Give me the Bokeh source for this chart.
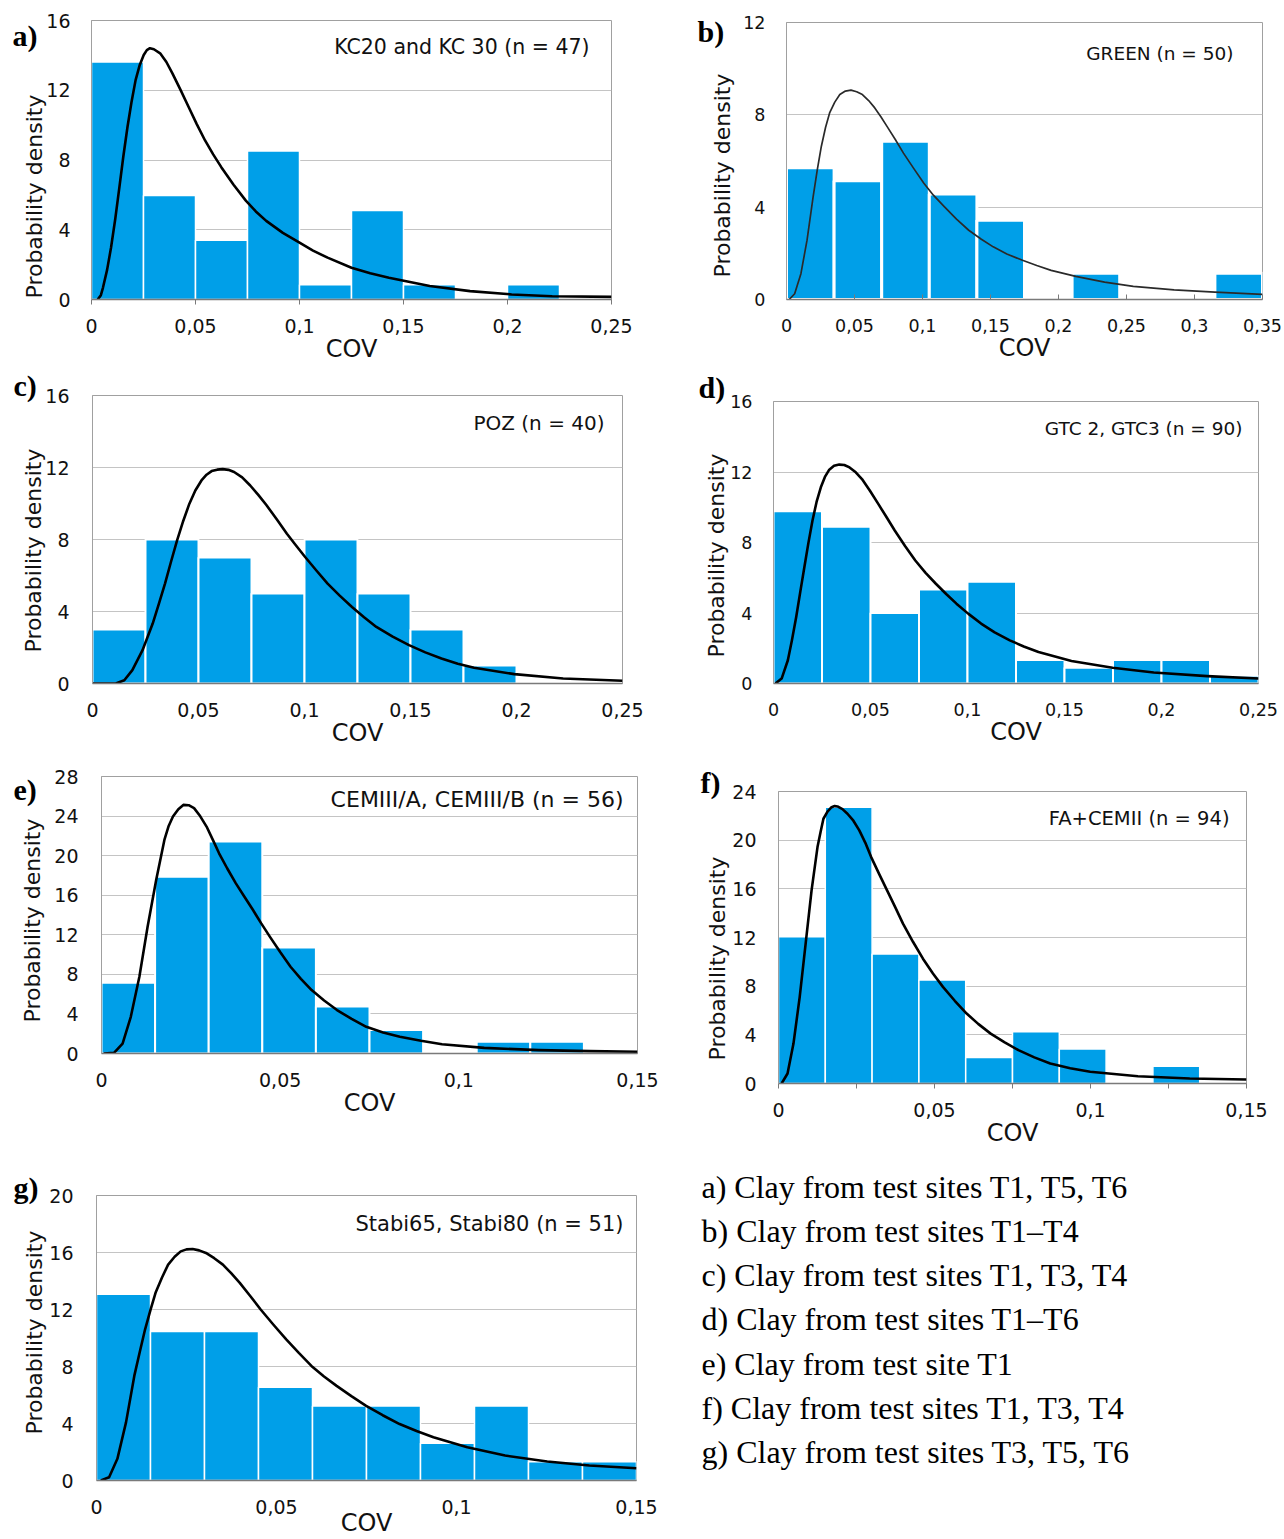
from bokeh.plotting import figure
from bokeh.layouts import row, column
from bokeh.models import Range1d, FixedTicker, CustomJSTickFormatter, Label, Title
from bokeh.core.properties import value
from bokeh.embed import file_html
from bokeh.resources import INLINE

# ---------------- data ----------------
a_bin_width = 0.025
a_heights = [13.62, 5.96, 3.40, 8.51, 0.85, 5.11, 0.85, 0, 0.85, 0]
a_curve_x = [0.003, 0.0045, 0.0055, 0.0075, 0.0094, 0.0114, 0.0134, 0.0153, 0.0173, 0.0192, 0.0212,
             0.0232, 0.0251, 0.0266, 0.0281, 0.0300, 0.033, 0.036, 0.0389, 0.0428, 0.0467, 0.0506,
             0.0546, 0.0585, 0.0624, 0.0683, 0.0742, 0.079, 0.084, 0.092, 0.0998, 0.1065, 0.1135,
             0.125, 0.134, 0.143, 0.1626, 0.182, 0.202, 0.2215, 0.25]
a_curve_y = [0, 0.25, 0.67, 1.7, 2.98, 4.6, 6.43, 8.2, 9.89, 11.3, 12.58,
             13.45, 14.02, 14.3, 14.41, 14.35, 14.12, 13.62, 12.97, 12.02, 11.04, 10.06,
             9.12, 8.32, 7.59, 6.58, 5.67, 5.05, 4.51, 3.82, 3.27, 2.80, 2.40,
             1.82, 1.50, 1.25, 0.77, 0.48, 0.29, 0.19, 0.15]

b_bin_width = 0.035
b_heights = [5.71, 5.14, 6.86, 4.57, 3.43, 0, 1.14, 0, 0, 1.14]
b_curve_x = [0.002, 0.006, 0.0106, 0.0151, 0.0196, 0.0226, 0.0256, 0.0287, 0.0317, 0.0355, 0.0392,
             0.0433, 0.0474, 0.0516, 0.0558, 0.0604, 0.0649, 0.0694, 0.0739, 0.080, 0.086, 0.0935,
             0.101, 0.108, 0.116, 0.125, 0.134, 0.143, 0.152, 0.162, 0.1735, 0.184, 0.1946, 0.2127,
             0.2339, 0.255, 0.285, 0.315, 0.35]
b_curve_y = [0, 0.25, 1.12, 2.57, 4.46, 5.6, 6.63, 7.45, 8.08, 8.55, 8.88,
             9.03, 9.07, 9.0, 8.88, 8.62, 8.30, 7.92, 7.50, 6.93, 6.34, 5.68,
             5.04, 4.52, 4.02, 3.48, 3.0, 2.62, 2.28, 1.97, 1.70, 1.47, 1.26, 1.0,
             0.75, 0.57, 0.42, 0.32, 0.22]

c_bin_width = 0.025
c_heights = [3, 8, 7, 5, 8, 5, 3, 1, 0, 0]
c_curve_x = [0, 0.011, 0.015, 0.0188, 0.0236, 0.0284, 0.0313, 0.0342, 0.037, 0.0399, 0.0428, 0.0457,
             0.0485, 0.0514, 0.0538, 0.0562, 0.0588, 0.0614, 0.0641, 0.0668, 0.0706, 0.0744, 0.0782,
             0.0821, 0.0869, 0.0917, 0.096, 0.1003, 0.1056, 0.1109, 0.1166, 0.1224, 0.1281, 0.1339,
             0.1416, 0.1493, 0.157, 0.1646, 0.1723, 0.18, 0.199, 0.222, 0.25]
c_curve_y = [0, 0, 0.18, 0.74, 1.85, 3.33, 4.42, 5.55, 6.75, 7.95, 9.03, 9.99,
             10.72, 11.28, 11.6, 11.8, 11.88, 11.91, 11.87, 11.75, 11.45, 11.0, 10.48,
             9.9, 9.12, 8.32, 7.67, 7.03, 6.28, 5.55, 4.88, 4.25, 3.68, 3.14,
             2.60, 2.13, 1.73, 1.39, 1.10, 0.87, 0.52, 0.28, 0.15]

d_bin_width = 0.025
d_heights = [9.78, 8.89, 4.0, 5.33, 5.78, 1.33, 0.89, 1.33, 1.33, 0.44]
d_curve_x = [0.001, 0.0042, 0.0074, 0.0095, 0.0117, 0.0138, 0.0159, 0.018, 0.0201, 0.0222, 0.0244,
             0.0265, 0.0286, 0.0312, 0.0339, 0.0365, 0.0392, 0.0424, 0.0456, 0.0498, 0.054, 0.0583,
             0.0625, 0.0678, 0.0731, 0.0784, 0.0837, 0.089, 0.0943, 0.1005, 0.107, 0.114, 0.1218,
             0.129, 0.1366, 0.1536, 0.1748, 0.196, 0.2235, 0.25]
d_curve_y = [0, 0.28, 1.32, 2.45, 3.77, 5.2, 6.6, 7.98, 9.25, 10.3, 11.13,
             11.72, 12.11, 12.35, 12.42, 12.4, 12.26, 11.98, 11.6, 10.92, 10.19, 9.43,
             8.68, 7.8, 6.98, 6.28, 5.66, 5.08, 4.53, 3.95, 3.4, 2.9, 2.45,
             2.1, 1.79, 1.28, 0.89, 0.62, 0.42, 0.28]

e_bin_width = 0.015
e_heights = [7.14, 17.86, 21.43, 10.71, 4.76, 2.38, 0, 1.19, 1.19, 0]
e_curve_x = [0.0006, 0.0035, 0.0059, 0.0082, 0.0106, 0.0129, 0.0153, 0.0176, 0.0188, 0.02, 0.0215,
             0.0229, 0.0244, 0.0259, 0.0276, 0.0294, 0.0311, 0.0329, 0.0352, 0.0376, 0.04, 0.0424,
             0.0447, 0.0471, 0.05, 0.0529, 0.0558, 0.0588, 0.0623, 0.0659, 0.07, 0.0741, 0.0788,
             0.0835, 0.0894, 0.0953, 0.1071, 0.1224, 0.1365, 0.15]
e_curve_y = [0, 0.07, 1.01, 3.71, 7.76, 12.82, 17.54, 21.59, 23.0, 23.95, 24.7,
             25.13, 25.1, 24.8, 24.0, 22.94, 21.65, 20.24, 18.7, 17.2, 15.85, 14.5,
             13.15, 11.81, 10.25, 8.77, 7.55, 6.41, 5.35, 4.39, 3.5, 2.7, 2.12,
             1.69, 1.28, 0.94, 0.57, 0.34, 0.24, 0.17]

f_bin_width = 0.015
f_heights = [12.06, 22.70, 10.64, 8.51, 2.13, 4.26, 2.84, 0, 1.42, 0]
f_curve_x = [0.001, 0.0029, 0.0048, 0.0068, 0.0087, 0.0106, 0.0125, 0.0135, 0.0144, 0.0157, 0.017,
             0.018, 0.0189, 0.0205, 0.0221, 0.024, 0.0259, 0.0278, 0.0297, 0.0322, 0.0348, 0.0374,
             0.0399, 0.0431, 0.0463, 0.0495, 0.0527, 0.0565, 0.0603, 0.064, 0.068, 0.0725, 0.0769,
             0.082, 0.0871, 0.0935, 0.0999, 0.1152, 0.1318, 0.15]
f_curve_y = [0, 0.82, 3.28, 7.12, 11.49, 15.87, 19.43, 20.7, 21.76, 22.35, 22.71,
             22.8, 22.77, 22.55, 22.17, 21.6, 20.8, 19.8, 18.61, 17.25, 15.87, 14.5,
             13.14, 11.65, 10.26, 9.04, 7.94, 6.8, 5.75, 4.9, 4.1, 3.38, 2.74,
             2.15, 1.64, 1.26, 0.96, 0.6, 0.41, 0.33]

g_bin_width = 0.015
g_heights = [13.07, 10.46, 10.46, 6.54, 5.23, 5.23, 2.61, 5.23, 1.31, 1.31]
g_curve_x = [0.0012, 0.0035, 0.0058, 0.0082, 0.0105, 0.012, 0.0135, 0.015, 0.0164, 0.0182, 0.0199,
             0.0217, 0.0234, 0.025, 0.0267, 0.0285, 0.0304, 0.0327, 0.0351, 0.0374, 0.0398, 0.0427,
             0.0456, 0.0491, 0.0527, 0.0562, 0.0597, 0.0632, 0.0667, 0.0708, 0.0749, 0.0795, 0.0842,
             0.0889, 0.0936, 0.103, 0.1135, 0.1252, 0.1369, 0.15]
g_curve_y = [0, 0.23, 1.52, 4.08, 7.34, 9.0, 10.61, 11.98, 13.17, 14.25, 15.15,
             15.7, 16.08, 16.22, 16.25, 16.15, 15.97, 15.6, 15.15, 14.55, 13.87, 12.95,
             12.0, 10.95, 9.91, 8.95, 8.04, 7.3, 6.64, 5.92, 5.24, 4.58, 3.96,
             3.47, 3.03, 2.33, 1.75, 1.33, 1.05, 0.86]

a_ticks_x = [0, 0.05, 0.1, 0.15, 0.2, 0.25]
b_ticks_x = [0, 0.05, 0.1, 0.15, 0.2, 0.25, 0.3, 0.35]
e_ticks_x = [0, 0.05, 0.1, 0.15]
f_minor_x = [0.025, 0.075, 0.125]

notes = {
    "a": "KC20 and KC 30 (n = 47)",
    "b": "GREEN (n = 50)",
    "c": "POZ (n = 40)",
    "d": "GTC 2, GTC3 (n = 90)",
    "e": "CEMIII/A, CEMIII/B (n = 56)",
    "f": "FA+CEMII (n = 94)",
    "g": "Stabi65, Stabi80 (n = 51)",
}

legend_lines = [
    "a) Clay from test sites T1, T5, T6",
    "b) Clay from test sites T1\u2013T4",
    "c) Clay from test sites T1, T3, T4",
    "d) Clay from test sites T1\u2013T6",
    "e) Clay from test site T1",
    "f) Clay from test sites T1, T3, T4",
    "g) Clay from test sites T3, T5, T6",
]

# ---------------- styling ----------------
BAR = "#009fe8"
SANS = "DejaVu Sans"
SERIF = "Liberation Serif"

fmt_code = "var v = Math.round(tick*1000)/1000; return v.toString().replace('.', ',');"


def panel(key, heights, bw, cx, cy, xmax, xticks, ymax, cfg):
    fw = cfg["w"] - cfg["bl"] - cfg["br"]
    fh = cfg["h"] - cfg["bt"] - cfg["bb"]
    p = figure(width=cfg["w"], height=cfg["h"], title=None, toolbar_location=None,
               output_backend="svg", x_range=Range1d(0, xmax), y_range=Range1d(0, ymax),
               min_border_left=cfg["bl"], min_border_right=cfg["br"],
               min_border_top=cfg["bt"], min_border_bottom=cfg["bb"],
               background_fill_color="white", border_fill_color="white")
    p.outline_line_color = "#a0a0a0"
    p.outline_line_width = 1

    yticks = list(range(0, ymax + 1, 4))
    p.xgrid.grid_line_color = None
    p.ygrid.ticker = FixedTicker(ticks=yticks)
    p.ygrid.grid_line_color = "#c4c4c4"
    p.ygrid.grid_line_width = 1

    xa = p.xaxis[0]
    xa.ticker = FixedTicker(ticks=xticks, minor_ticks=cfg.get("minor", []))
    xa.formatter = CustomJSTickFormatter(code=fmt_code)
    xa.axis_line_color = "#7a7a7a"
    xa.axis_line_width = 1.3
    xa.major_tick_line_color = "#7a7a7a"
    xa.minor_tick_line_color = "#7a7a7a"
    xa.major_tick_in = cfg.get("tin", 0)
    xa.major_tick_out = cfg.get("tout", 0)
    xa.minor_tick_in = 0
    xa.minor_tick_out = cfg.get("mout", 0)
    xa.major_label_standoff = 19 - cfg.get("tout", 0)
    xa.major_label_text_font = SANS
    xa.major_label_text_font_size = cfg["tick_fs"]
    xa.major_label_text_color = "#111111"
    xa.axis_label = "COV"
    xa.axis_label_text_font = SANS
    xa.axis_label_text_font_size = "24px"
    xa.axis_label_text_font_style = "normal"
    xa.axis_label_text_color = "#111111"
    xa.axis_label_standoff = cfg.get("cov_so", -1)

    ya = p.yaxis[0]
    ya.ticker = FixedTicker(ticks=yticks)
    ya.axis_line_color = "#a0a0a0"
    ya.major_tick_line_color = None
    ya.minor_tick_line_color = None
    ya.major_tick_in = 0
    ya.major_tick_out = 0
    ya.minor_tick_out = 0
    ya.major_label_standoff = cfg["ylso"]
    ya.major_label_text_font = SANS
    ya.major_label_text_font_size = cfg["tick_fs"]
    ya.major_label_text_color = "#111111"

    p.add_layout(Title(text="Probability density", align="left", offset=cfg["yl_off"],
                       standoff=cfg["yl_so"], text_font=SANS, text_font_size="22px",
                       text_font_style="normal", text_color="#111111"), "left")

    lefts = [i * bw for i, h in enumerate(heights) if h > 0]
    rights = [(i + 1) * bw for i, h in enumerate(heights) if h > 0]
    tops = [h for h in heights if h > 0]
    p.quad(left=lefts, right=rights, bottom=0, top=tops, fill_color=BAR,
           line_color="white", line_width=cfg["bar_lw"])

    p.line(cx, cy, line_color=cfg.get("curve_col", "black"), line_width=cfg["curve_lw"],
           line_join="round")

    p.add_layout(Label(x=xmax - cfg["note_dx"] / fw * xmax, y=ymax - cfg["note_dy"] / fh * ymax,
                       text=notes[key], text_align="right", text_baseline="middle",
                       text_font=SANS, text_font_size=cfg["note_fs"], text_color="#111111"))
    # panel letter: a title in the top side panel, pulled left and down by offset/standoff
    p.add_layout(Title(text=key + ")", align="left", offset=cfg["let_dx"], vertical_align="bottom",
                       standoff=-2 * (cfg["let_dy"] + 15), text_font=SERIF, text_font_size="30px",
                       text_font_style="bold", text_color="black"), "above")
    return p


cfg_a = dict(w=660, h=366, bl=91, br=49, bt=20, bb=67, tick_fs="19px", ylso=21, yl_off=1, yl_so=-6,
             bar_lw=1.5, curve_lw=2.6, note_dx=22, note_dy=26, note_fs="20.5px", let_dx=-79, let_dy=16,
             tout=5)
cfg_b = dict(w=624, h=366, bl=126, br=22, bt=22, bb=67, tick_fs="17.5px", ylso=21, yl_off=22, yl_so=12,
             bar_lw=3, curve_lw=1.7, curve_col="#2a2a2a", note_dx=29, note_dy=31, note_fs="18.5px",
             let_dx=-89, let_dy=10, tin=5)
cfg_c = dict(w=660, h=389, bl=92, br=38, bt=29, bb=72, tick_fs="19px", ylso=23, yl_off=31, yl_so=-6,
             bar_lw=2, curve_lw=2.6, note_dx=18, note_dy=27, note_fs="20px", let_dx=-79, let_dy=-9)
cfg_d = dict(w=624, h=389, bl=113, br=26, bt=35, bb=72, tick_fs="17.5px", ylso=21, yl_off=26, yl_so=-2,
             bar_lw=2, curve_lw=2.6, note_dx=16, note_dy=27, note_fs="18.5px", let_dx=-75, let_dy=-13)
cfg_e = dict(w=660, h=401, bl=101, br=23, bt=21, bb=103, tick_fs="19px", ylso=23, yl_off=31, yl_so=14,
             bar_lw=2, curve_lw=2.6, note_dx=14, note_dy=23, note_fs="22px", let_dx=-88, let_dy=14)
cfg_f = dict(w=624, h=401, bl=118, br=38, bt=36, bb=73, tick_fs="19px", ylso=22, yl_off=23, yl_so=0,
             bar_lw=1.5, curve_lw=2.6, note_dx=17, note_dy=27, note_fs="19.5px", let_dx=-78, let_dy=-8,
             tout=5, mout=5, minor=f_minor_x)
cfg_g = dict(w=660, h=383, bl=96, br=24, bt=39, bb=58, tick_fs="19px", ylso=23, yl_off=46, yl_so=0,
             bar_lw=1.5, curve_lw=2.6, note_dx=13, note_dy=29, note_fs="21px", let_dx=-83, let_dy=-7,
             cov_so=-8)

pa = panel("a", a_heights, a_bin_width, a_curve_x, a_curve_y, 0.25, a_ticks_x, 16, cfg_a)
pb = panel("b", b_heights, b_bin_width, b_curve_x, b_curve_y, 0.35, b_ticks_x, 12, cfg_b)
pc = panel("c", c_heights, c_bin_width, c_curve_x, c_curve_y, 0.25, a_ticks_x, 16, cfg_c)
pd = panel("d", d_heights, d_bin_width, d_curve_x, d_curve_y, 0.25, a_ticks_x, 16, cfg_d)
pe = panel("e", e_heights, e_bin_width, e_curve_x, e_curve_y, 0.15, e_ticks_x, 28, cfg_e)
pf = panel("f", f_heights, f_bin_width, f_curve_x, f_curve_y, 0.15, e_ticks_x, 24, cfg_f)
pg = panel("g", g_heights, g_bin_width, g_curve_x, g_curve_y, 0.15, e_ticks_x, 20, cfg_g)

# legend text panel
LW, LH = 624, 383
leg = figure(width=LW, height=LH, title=None, toolbar_location=None, output_backend="svg",
             x_range=Range1d(0, LW), y_range=Range1d(LH, 0), min_border=0,
             x_axis_location=None, y_axis_location=None)
leg.grid.grid_line_color = None
leg.outline_line_color = None
leg.text(x=[41] * len(legend_lines), y=[30 + 44.3 * i for i in range(len(legend_lines))],
         text=legend_lines, text_font=value(SERIF), text_font_size="32px",
         text_baseline="middle", text_align="left", text_color="black")

# each plot wrapped in its own column so that frames are not aligned across a row
layout = column(row(column(pa), column(pb)), row(column(pc), column(pd)),
                row(column(pe), column(pf)), row(column(pg), column(leg)))

open("out.html", "w").write(file_html(layout, INLINE))
